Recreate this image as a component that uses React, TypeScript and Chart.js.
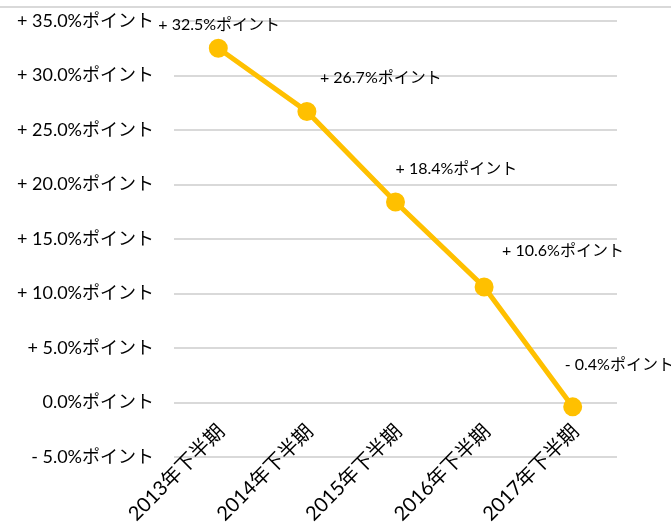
import React, { useEffect, useRef } from "react";
import { Chart, registerables } from "chart.js";

Chart.register(...registerables);

const categories = ["2013年下半期", "2014年下半期", "2015年下半期", "2016年下半期", "2017年下半期"];
const values = [32.5, 26.7, 18.4, 10.6, -0.4];
const yMin = -5;
const yMax = 35;
const yStep = 5;

const FONT = "Lato, 'Noto Sans CJK JP', sans-serif";

function fmt(v: number): string {
  const r = Math.round(v * 10) / 10;
  if (Math.abs(r) < 1e-9) return "0.0%ポイント";
  const sign = r > 0 ? "+ " : "- ";
  return sign + Math.abs(r).toFixed(1) + "%ポイント";
}

// label placement offsets (style only): left edge dx, center dy relative to point
const labelDx = [-60, 13, 0, 18, -8];
const labelDy = [-23, -34, -33, -36, -42];

const labelPlugin = {
  id: "pointLabels",
  afterDatasetsDraw(chart: any) {
    const ctx = chart.ctx;
    const meta = chart.getDatasetMeta(0);
    ctx.save();
    ctx.font = `16px ${FONT}`;
    ctx.fillStyle = "#000";
    ctx.textAlign = "left";
    ctx.textBaseline = "middle";
    meta.data.forEach((pt: any, i: number) => {
      ctx.fillText(fmt(values[i]), pt.x + labelDx[i], pt.y + labelDy[i]);
    });
    ctx.restore();
  },
};

const topLinePlugin = {
  id: "topLine",
  beforeDraw(chart: any) {
    const ctx = chart.ctx;
    ctx.save();
    ctx.strokeStyle = "#d9d9d9";
    ctx.lineWidth = 2;
    ctx.beginPath();
    ctx.moveTo(0, 7);
    ctx.lineTo(chart.width, 7);
    ctx.stroke();
    ctx.restore();
  },
};

export default function App() {
  const ref = useRef<HTMLCanvasElement | null>(null);
  useEffect(() => {
    if (!ref.current) return;
    const chart = new Chart(ref.current, {
      type: "line",
      data: {
        labels: categories,
        datasets: [
          {
            data: values,
            borderColor: "#FFC000",
            backgroundColor: "#FFC000",
            borderWidth: 5,
            pointRadius: 7,
            pointHoverRadius: 7,
            pointBackgroundColor: "#FFC000",
            pointBorderColor: "#FFC000",
            tension: 0,
          },
        ],
      },
      options: {
        animation: false,
        responsive: false,
        maintainAspectRatio: false,
        layout: { padding: { top: 21, right: 54, bottom: 66, left: 0 } },
        plugins: { legend: { display: false }, tooltip: { enabled: false } },
        scales: {
          x: {
            position: { y: 0 },
            offset: true,
            grid: { display: false, drawTicks: false },
            border: { display: false },
            ticks: {
              autoSkip: false,
              minRotation: 45,
              maxRotation: 45,
              padding: 17,
              labelOffset: 3,
              color: "#000",
              font: { family: FONT, size: 20 },
            },
          },
          y: {
            min: yMin,
            max: yMax,
            grid: { color: "#d9d9d9", lineWidth: 2, drawTicks: false },
            border: { display: false },
            ticks: {
              stepSize: yStep,
              padding: 20,
              color: "#000",
              font: { family: FONT, size: 18 },
              callback: (v: any) => fmt(Number(v)),
            },
            afterFit(scale: any) {
              scale.width = 174;
              scale.paddingTop = 0;
              scale.paddingBottom = 0;
            },
          },
        },
      },
      plugins: [labelPlugin, topLinePlugin],
    });
    return () => chart.destroy();
  }, []);
  return (
    <div style={{ position: "fixed", left: 0, top: 0, width: 671, height: 523, background: "#fff" }}>
      <canvas ref={ref} width={671} height={523} style={{ width: 671, height: 523 }} />
    </div>
  );
}
